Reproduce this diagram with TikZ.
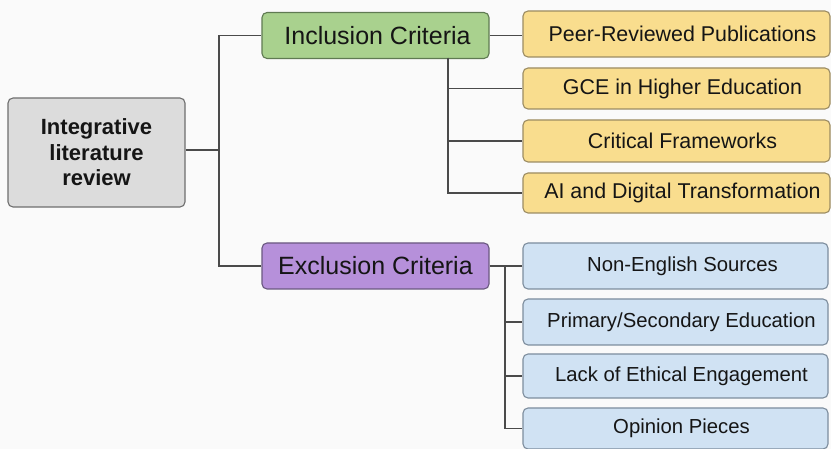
\documentclass[tikz,border=0pt]{standalone}
\usepackage{fontspec}
\setmainfont{Liberation Sans}
\definecolor{bg}{HTML}{FAFAFA}
\definecolor{rootfill}{HTML}{DCDCDC}
\definecolor{rootdraw}{HTML}{6E6E6E}
\definecolor{grfill}{HTML}{A9D18E}
\definecolor{grdraw}{HTML}{5F7A52}
\definecolor{pufill}{HTML}{B690DA}
\definecolor{pudraw}{HTML}{6A5880}
\definecolor{yefill}{HTML}{F9DD8E}
\definecolor{yedraw}{HTML}{9C8C62}
\definecolor{blfill}{HTML}{D0E2F3}
\definecolor{bldraw}{HTML}{7D8D9D}
\definecolor{linec}{HTML}{4A4A4A}
\definecolor{txt}{HTML}{151515}
\begin{document}
\begin{tikzpicture}[x=1pt,y=-1pt,
  box/.style={rectangle,rounded corners=5pt,line width=1.1pt,inner sep=0pt,text=txt},
  rootbox/.style={box,align=center,fill=rootfill,draw=rootdraw,minimum width=177pt,minimum height=109pt,font=\fontsize{22}{25.5}\selectfont\bfseries},
  hdr/.style={box,minimum width=227pt,minimum height=46pt,font=\fontsize{25}{29}\selectfont},
  incbox/.style={hdr,fill=grfill,draw=grdraw},
  excbox/.style={hdr,fill=pufill,draw=pudraw},
  yebox/.style={box,fill=yefill,draw=yedraw,minimum width=307pt,font=\fontsize{21.4}{25}\selectfont},
  blbox/.style={box,fill=blfill,draw=bldraw,minimum width=305pt,font=\fontsize{20.3}{24}\selectfont},
  conn/.style={draw=linec,line width=1.4pt}]
\fill[bg] (0,0) rectangle (831,449);
\useasboundingbox (0,0) rectangle (831,449);

\node[rootbox] (root) at (96.5,152.5) {Integrative\\literature\\review};
\node[incbox] (inc) at (375.5,35.5) {\hspace*{4pt}Inclusion Criteria};
\node[excbox] (exc) at (375.5,266) {Exclusion Criteria};

\node[yebox,minimum height=46pt] (y1) at (676.5,34) {\hspace*{12pt}Peer-Reviewed Publications};
\node[yebox,minimum height=41pt] (y2) at (676.5,88.5) {\hspace*{12pt}GCE in Higher Education};
\node[yebox,minimum height=42pt] (y3) at (676.5,141) {\hspace*{12pt}Critical Frameworks};
\node[yebox,minimum height=40pt] (y4) at (676.5,193) {\hspace*{12pt}AI and Digital Transformation};

\node[blbox,minimum height=46pt] (b1) at (675.5,266) {\hspace*{14pt}Non-English Sources};
\node[blbox,minimum height=46pt] (b2) at (675.5,322) {\hspace*{12pt}Primary/Secondary Education};
\node[blbox,minimum height=44pt] (b3) at (675.5,376) {\hspace*{12pt}Lack of Ethical Engagement};
\node[blbox,minimum height=41pt] (b4) at (675.5,428.5) {\hspace*{12pt}Opinion Pieces};

\coordinate (j0) at (219,150);
\coordinate (t1) at (448,58);
\coordinate (t2) at (505,266);

\draw[conn] (root.east |- j0) -- (j0);
\draw[conn] (j0) |- (inc.west);
\draw[conn] (j0) |- (exc.west);

\draw[conn] (inc.east) -- (inc.east -| y1.west);
\draw[conn] (t1) |- (y2.west);
\draw[conn] (t1) |- (y3.west);
\draw[conn] (t1) |- (y4.west);

\draw[conn] (exc.east) -- (b1.west);
\draw[conn] (t2) |- (b2.west);
\draw[conn] (t2) |- (b3.west);
\draw[conn] (t2) |- (b4.west);
\end{tikzpicture}
\end{document}
